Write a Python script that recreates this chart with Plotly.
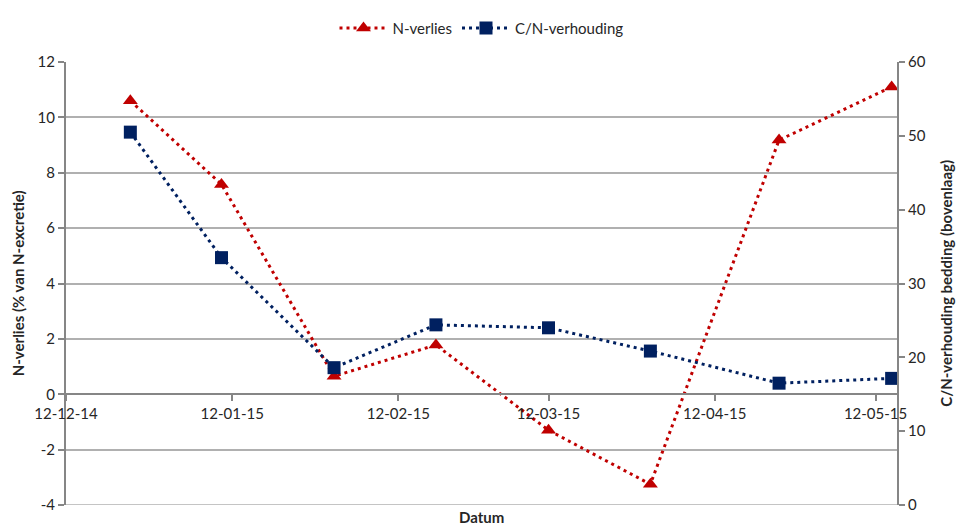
import plotly.graph_objects as go

# Meetdata
datums = ["2014-12-24", "2015-01-10", "2015-01-31", "2015-02-19",
          "2015-03-12", "2015-03-31", "2015-04-24", "2015-05-15"]
n_verlies = [10.6, 7.58, 0.65, 1.78, -1.3, -3.25, 9.18, 11.1]
cn_verhouding = [50.5, 33.5, 18.6, 24.4, 24.0, 20.85, 16.5, 17.15]

# Aslabels (links met gewoon koppelteken als minteken)
links_waarden = [-4, -2, 0, 2, 4, 6, 8, 10, 12]
links_labels = ["-4", "-2", "0", "2", "4", "6", "8", "10", "12"]
rechts_waarden = [0, 10, 20, 30, 40, 50, 60]

rood = "#C00000"
blauw = "#002060"
as_grijs = "#868686"
raster_grijs = "#b0b0b0"
tekst_kleur = "#262626"
lettertype = "Lato"

fig = go.Figure()

fig.add_trace(go.Scatter(
    x=datums, y=n_verlies, name="N-verlies", mode="lines+markers",
    line=dict(color=rood, width=3, dash="3px,4px"),
    marker=dict(symbol="triangle-up", size=13, color=rood),
    yaxis="y",
))
fig.add_trace(go.Scatter(
    x=datums, y=cn_verhouding, name="C/N-verhouding", mode="lines+markers",
    line=dict(color=blauw, width=3, dash="3px,4px"),
    marker=dict(symbol="square", size=13, color=blauw),
    yaxis="y2",
))

fig.update_layout(
    width=957, height=526,
    margin=dict(l=66, r=60, t=56, b=21),
    paper_bgcolor="white", plot_bgcolor="white",
    font=dict(family=lettertype, size=15, color=tekst_kleur),
    showlegend=True,
    legend=dict(orientation="h", x=0.5, xanchor="center", y=1.076, yanchor="middle",
                font=dict(size=15), itemwidth=48, traceorder="normal"),
    xaxis=dict(
        type="date",
        range=["2014-12-12", "2015-05-16"],
        tick0="2014-12-12", dtick="M1", tickformat="%d-%m-%y",
        showgrid=False, zeroline=False,
        showline=True, linecolor=as_grijs, linewidth=2,
        ticks="outside", ticklen=6, tickcolor=as_grijs, tickwidth=1.5,
        anchor="free", position=0.25,
        tickfont=dict(size=15),
    ),
    yaxis=dict(
        range=[-4, 12], tickmode="array", tickvals=links_waarden, ticktext=links_labels,
        showgrid=True, gridcolor=raster_grijs, gridwidth=1.5,
        zeroline=True, zerolinecolor=as_grijs, zerolinewidth=2,
        showline=True, linecolor=as_grijs, linewidth=2,
        ticks="outside", ticklen=6, tickcolor=as_grijs, tickwidth=1.5,
        tickfont=dict(size=15),
    ),
    yaxis2=dict(
        range=[0, 60], tickmode="array", tickvals=rechts_waarden,
        overlaying="y", side="right",
        showgrid=False, zeroline=False,
        showline=True, linecolor=as_grijs, linewidth=2,
        ticks="outside", ticklen=6, tickcolor=as_grijs, tickwidth=1.5,
        tickfont=dict(size=15),
    ),
)

# Onderste rasterlijn bij -4
fig.add_shape(type="line", xref="paper", yref="y", x0=0, x1=1, y0=-4, y1=-4,
              line=dict(color=raster_grijs, width=1.5), layer="below")

# Astitels
fig.add_annotation(text="<b>N-verlies (% van N-excretie)</b>", xref="paper", yref="paper",
                   x=-0.058, y=0.5, xanchor="center", yanchor="middle", textangle=-90,
                   showarrow=False, font=dict(size=15, family=lettertype))
fig.add_annotation(text="<b>C/N-verhouding bedding (bovenlaag)</b>", xref="paper", yref="paper",
                   x=1.058, y=0.5, xanchor="center", yanchor="middle", textangle=-90,
                   showarrow=False, font=dict(size=15, family=lettertype))
fig.add_annotation(text="<b>Datum</b>", xref="paper", yref="paper",
                   x=0.5, y=-0.028, xanchor="center", yanchor="middle",
                   showarrow=False, font=dict(size=15, family=lettertype))

fig.write_html("out.html")
